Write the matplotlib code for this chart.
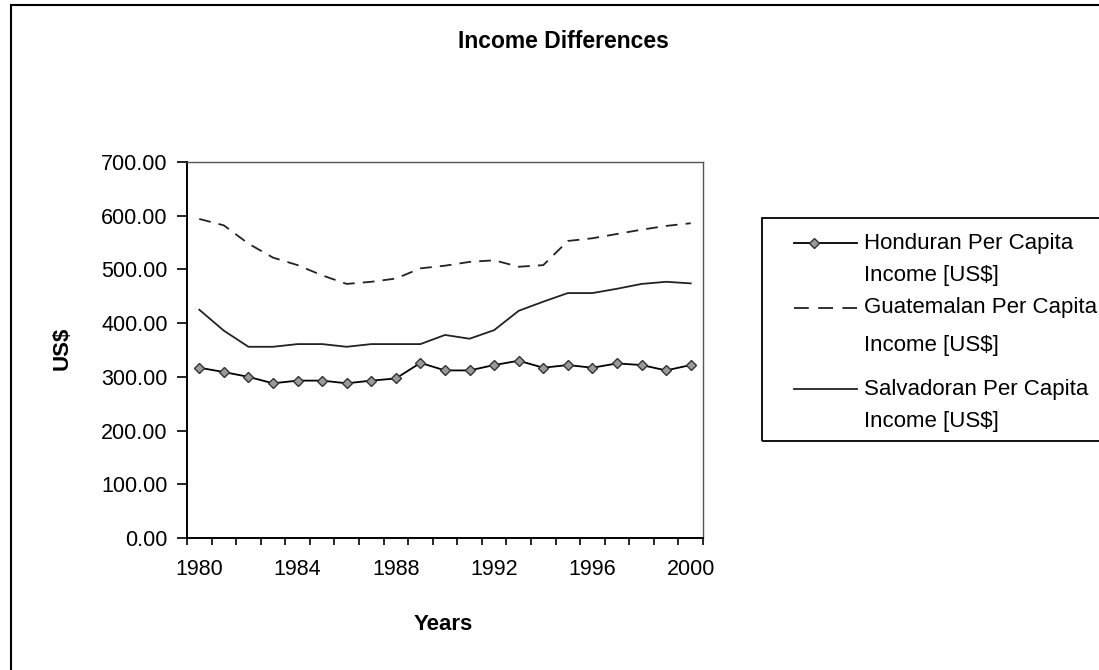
import numpy as np
import matplotlib
matplotlib.use("Agg")
import matplotlib.pyplot as plt
from matplotlib.patches import Rectangle
from matplotlib.lines import Line2D
from matplotlib.ticker import FormatStrFormatter

plt.rcParams['font.family'] = ['Liberation Sans', 'DejaVu Sans']

years = list(range(1980, 2001))
honduran = [317, 309, 300, 288, 293, 293, 288, 293, 297, 326, 312,
            312, 322, 330, 317, 322, 317, 325, 322, 312, 322]
guatemalan = [594, 582, 548, 522, 508, 489, 473, 477, 483, 502, 507,
              514, 517, 505, 508, 553, 558, 566, 574, 581, 586]
salvadoran = [425, 386, 356, 356, 361, 361, 356, 361, 361, 361, 378,
              371, 387, 423, 440, 456, 456, 464, 473, 477, 474]
year_labels = ["1980", "1984", "1988", "1992", "1996", "2000"]
series_names = ["Honduran Per Capita", "Guatemalan Per Capita",
                "Salvadoran Per Capita"]

W, H = 1099, 670
fig = plt.figure(figsize=(W / 100, H / 100), dpi=100)
ax = fig.add_axes([187 / W, 1 - 538 / H, 516 / W, 376 / H])

hond_style = dict(color="black", lw=1.3, marker="D", markersize=5,
                  markerfacecolor="#9a9a9a", markeredgecolor="#333333")
guat_style = dict(color="#222222", lw=1.3, linestyle=(0, (6.5, 4.5)))
salv_style = dict(color="#222222", lw=1.3)

x = np.arange(len(years))
ax.plot(x, honduran, **hond_style)
ax.plot(x, guatemalan, **guat_style)
ax.plot(x, salvadoran, **salv_style)

ax.set_xlim(-0.5, len(years) - 0.5)
ax.set_ylim(0, 700)
ax.set_yticks(np.arange(0, 701, 100))
ax.yaxis.set_major_formatter(FormatStrFormatter("%.2f"))

# category axis: ticks between categories, labels every 4 years
ax.set_xticks(np.arange(-0.5, len(years), 1.0))
ax.set_xticklabels([])
ax.set_xticks([years.index(int(s)) for s in year_labels], minor=True)
ax.set_xticklabels(year_labels, minor=True)
ax.tick_params(axis="x", which="major", length=5, width=1.2, direction="out")
ax.tick_params(axis="x", which="minor", length=0, pad=15, labelsize=15.5)
ax.tick_params(axis="y", length=7, width=1.2, direction="out", pad=7,
               labelsize=15.5)

for side in ["left", "bottom"]:
    ax.spines[side].set_linewidth(1.4)
for side in ["top", "right"]:
    ax.spines[side].set_color("#555555")
    ax.spines[side].set_linewidth(1.0)

fig.text(563 / W, 1 - 42 / H, "Income Differences", ha="center",
         va="center", fontsize=16.5, fontweight="bold")
fig.text(443 / W, 1 - 625 / H, "Years", ha="center", va="center",
         fontsize=16, fontweight="bold")
fig.text(62 / W, 1 - 348 / H, "US$", ha="center", va="center",
         fontsize=16, fontweight="bold", rotation=90)

# legend box, partly cut off at the right like the reference
fig.patches.append(Rectangle((762 / W, 1 - 441 / H), 400 / W, 223 / H,
                             transform=fig.transFigure, fill=False,
                             edgecolor="black", lw=1.3))
styles = [hond_style, dict(guat_style, linestyle=(0, (8.2, 5.2))), salv_style]
first_rows = [243, 308, 389]
second_rows = [276, 346, 421]
for name, st, y1, y2 in zip(series_names, styles, first_rows, second_rows):
    if "marker" in st:
        hx = [794 / W, 814 / W, 857 / W]
    else:
        hx = [794 / W, 857 / W]
    handle = Line2D(hx, [1 - y1 / H] * len(hx), transform=fig.transFigure, **st)
    if "marker" in st:
        handle.set_markevery([1])
    fig.lines.append(handle)
    fig.text(864 / W, 1 - y1 / H, name, ha="left", va="center", fontsize=16)
    fig.text(864 / W, 1 - y2 / H, "Income [US$]", ha="left", va="center",
             fontsize=16)

# outer chart border
fig.patches.append(Rectangle((11 / W, -0.05), 1.2, 1 - 5 / H + 0.05,
                             transform=fig.transFigure, fill=False,
                             edgecolor="black", lw=1.5))

fig.savefig("out.png", dpi=100)
